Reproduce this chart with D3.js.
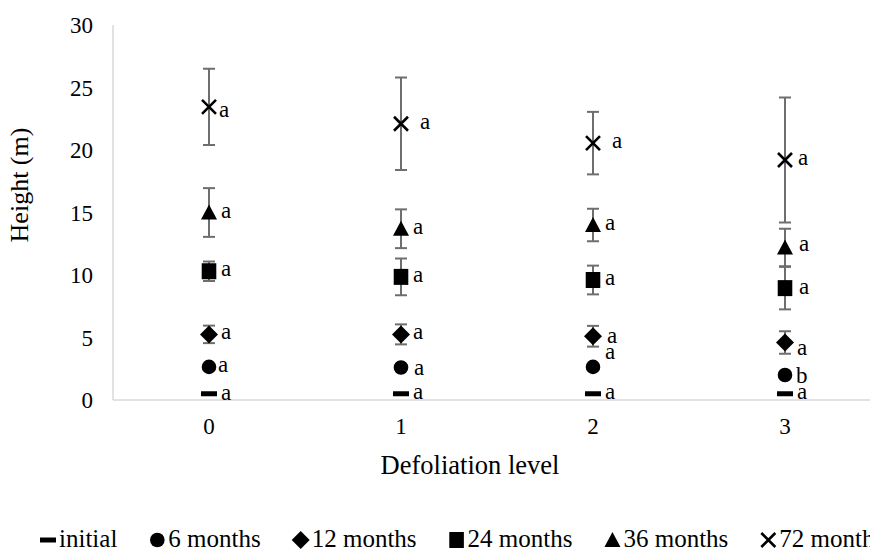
<!DOCTYPE html>
<html>
<head>
<meta charset="utf-8">
<script src="https://cdn.jsdelivr.net/npm/d3@7"></script>
<style>
  body { margin: 0; background: #fff; }
  svg { display: block; font-family: "Liberation Serif", "Times New Roman", serif; }
</style>
</head>
<body>
<svg id="chart" width="870" height="559"></svg>
<script>
// categories + series
var levels = ["0", "1", "2", "3"];
var seriesNames = ["initial", "6 months", "12 months", "24 months", "36 months", "72 months"];
var seriesShapes = ["dash", "circle", "diamond", "square", "triangle", "x"];
var yTicks = [0, 5, 10, 15, 20, 25, 30];

// mean heights (m), one row per series, one value per defoliation level
var initialMean = [0.5, 0.5, 0.5, 0.5];
var m6Mean = [2.65, 2.6, 2.65, 2.0];
var m12Mean = [5.25, 5.25, 5.1, 4.6];
var m24Mean = [10.3, 9.85, 9.6, 8.95];
var m36Mean = [15.0, 13.7, 14.0, 12.2];
var m72Mean = [23.45, 22.1, 20.55, 19.2];

// error (+/-)
var initialErr = [0, 0, 0, 0];
var m6Err = [0, 0, 0, 0];
var m12Err = [0.7, 0.8, 0.83, 0.9];
var m24Err = [0.78, 1.47, 1.15, 1.7];
var m36Err = [1.95, 1.55, 1.3, 1.5];
var m72Err = [3.05, 3.7, 2.5, 5.0];

// significance letters
var initialLetter = ["a", "a", "a", "a"];
var m6Letter = ["a", "a", "a", "b"];
var m12Letter = ["a", "a", "a", "a"];
var m24Letter = ["a", "a", "a", "a"];
var m36Letter = ["a", "a", "a", "a"];
var m72Letter = ["a", "a", "a", "a"];

var means = [initialMean, m6Mean, m12Mean, m24Mean, m36Mean, m72Mean];
var errs = [initialErr, m6Err, m12Err, m24Err, m36Err, m72Err];
var letters = [initialLetter, m6Letter, m12Letter, m24Letter, m36Letter, m72Letter];

// hand placed label nudges (as in the original), "series-level": [dx, dy]
var labelNudge = {
  "0-0": [12, 6], "1-0": [9, 5], "1-1": [13, 7], "1-2": [12, -8], "1-3": [11, 8],
  "2-2": [14, 7], "2-3": [12, 12], "3-3": [14, 6], "4-3": [14, 3],
  "5-0": [10, 10], "5-1": [19, 5], "5-2": [19, 5], "5-3": [13, 5]
};

var svg = d3.select("#chart");
var x = d3.scalePoint().domain(levels).range([113, 881]).padding(0.5);
var y = d3.scaleLinear().domain([0, 30]).range([400, 25]);

// axes lines
svg.append("line").attr("x1", 113).attr("x2", 881).attr("y1", y(0)).attr("y2", y(0))
  .attr("stroke", "#d9d9d9").attr("stroke-width", 1.5);
svg.append("line").attr("x1", 113).attr("x2", 113).attr("y1", y(30)).attr("y2", y(0))
  .attr("stroke", "#d9d9d9").attr("stroke-width", 1.5);

svg.selectAll(".ytick").data(yTicks).enter().append("text")
  .attr("class", "ytick")
  .attr("x", 93).attr("y", function(d){ return y(d); })
  .attr("dy", "0.35em").attr("text-anchor", "end")
  .attr("font-size", 23).attr("fill", "#000")
  .text(function(d){ return d; });

svg.selectAll(".xtick").data(levels).enter().append("text")
  .attr("class", "xtick")
  .attr("x", function(d){ return x(d); }).attr("y", 434)
  .attr("text-anchor", "middle")
  .attr("font-size", 23).attr("fill", "#000")
  .text(function(d){ return d; });

svg.append("text").attr("x", 470).attr("y", 474).attr("text-anchor", "middle")
  .attr("font-size", 26.5).text("Defoliation level");

svg.append("text").attr("transform", "translate(28,185) rotate(-90)")
  .attr("text-anchor", "middle").attr("font-size", 26).text("Height (m)");

function markerPath(kind, cx, cy){
  var p = d3.path();
  if(kind == "dash"){
    p.rect(cx - 8, cy - 2.5, 16, 5);
  } else if(kind == "circle"){
    p.arc(cx, cy, 7.3, 0, Math.PI * 2);
  } else if(kind == "diamond"){
    p.moveTo(cx, cy - 9); p.lineTo(cx + 9, cy); p.lineTo(cx, cy + 9); p.lineTo(cx - 9, cy); p.closePath();
  } else if(kind == "square"){
    p.rect(cx - 7.3, cy - 8, 14.6, 16);
  } else if(kind == "triangle"){
    p.moveTo(cx, cy - 8); p.lineTo(cx + 8, cy + 7); p.lineTo(cx - 8, cy + 7); p.closePath();
  } else if(kind == "x"){
    p.moveTo(cx - 7, cy - 7); p.lineTo(cx + 7, cy + 7);
    p.moveTo(cx + 7, cy - 7); p.lineTo(cx - 7, cy + 7);
  }
  return p.toString();
}

function drawMarker(g, kind, cx, cy){
  var m = g.append("path").attr("d", markerPath(kind, cx, cy));
  if(kind == "x")
    m.attr("fill", "none").attr("stroke", "#000").attr("stroke-width", 2.6);
  else
    m.attr("fill", "#000");
}

var points = [];
for(var s = 0; s < seriesNames.length; s++){
  for(var i = 0; i < levels.length; i++){
    points.push({s: s, i: i, level: levels[i], v: means[s][i], e: errs[s][i], l: letters[s][i]});
  }
}

// error bars under markers
var eb = svg.append("g").attr("stroke", "#6e6e6e").attr("stroke-width", 2);
points.filter(function(d){ return d.e > 0; }).forEach(function(d){
  var cx = x(d.level);
  eb.append("line").attr("x1", cx).attr("x2", cx).attr("y1", y(d.v + d.e)).attr("y2", y(d.v - d.e));
  eb.append("line").attr("x1", cx - 6).attr("x2", cx + 6).attr("y1", y(d.v + d.e)).attr("y2", y(d.v + d.e));
  eb.append("line").attr("x1", cx - 6).attr("x2", cx + 6).attr("y1", y(d.v - d.e)).attr("y2", y(d.v - d.e));
});

var mk = svg.append("g");
points.forEach(function(d){
  drawMarker(mk, seriesShapes[d.s], x(d.level), y(d.v));
});

svg.selectAll(".lbl").data(points).enter().append("text")
  .attr("class", "lbl")
  .attr("x", function(d){ var n = labelNudge[d.s + "-" + d.i] || [12, 5]; return x(d.level) + n[0]; })
  .attr("y", function(d){ var n = labelNudge[d.s + "-" + d.i] || [12, 5]; return y(d.v) + n[1]; })
  .attr("font-size", 23).attr("fill", "#000")
  .text(function(d){ return d.l; });

// legend
var lg = svg.append("g");
var lx = 48;
for(var s = 0; s < seriesNames.length; s++){
  drawMarker(lg, seriesShapes[s], lx, 540);
  var t = lg.append("text").attr("x", lx + 11).attr("y", 547).attr("font-size", 25).text(seriesNames[s]);
  lx = lx + 11 + t.node().getComputedTextLength() + 40;
}
</script>
</body>
</html>
